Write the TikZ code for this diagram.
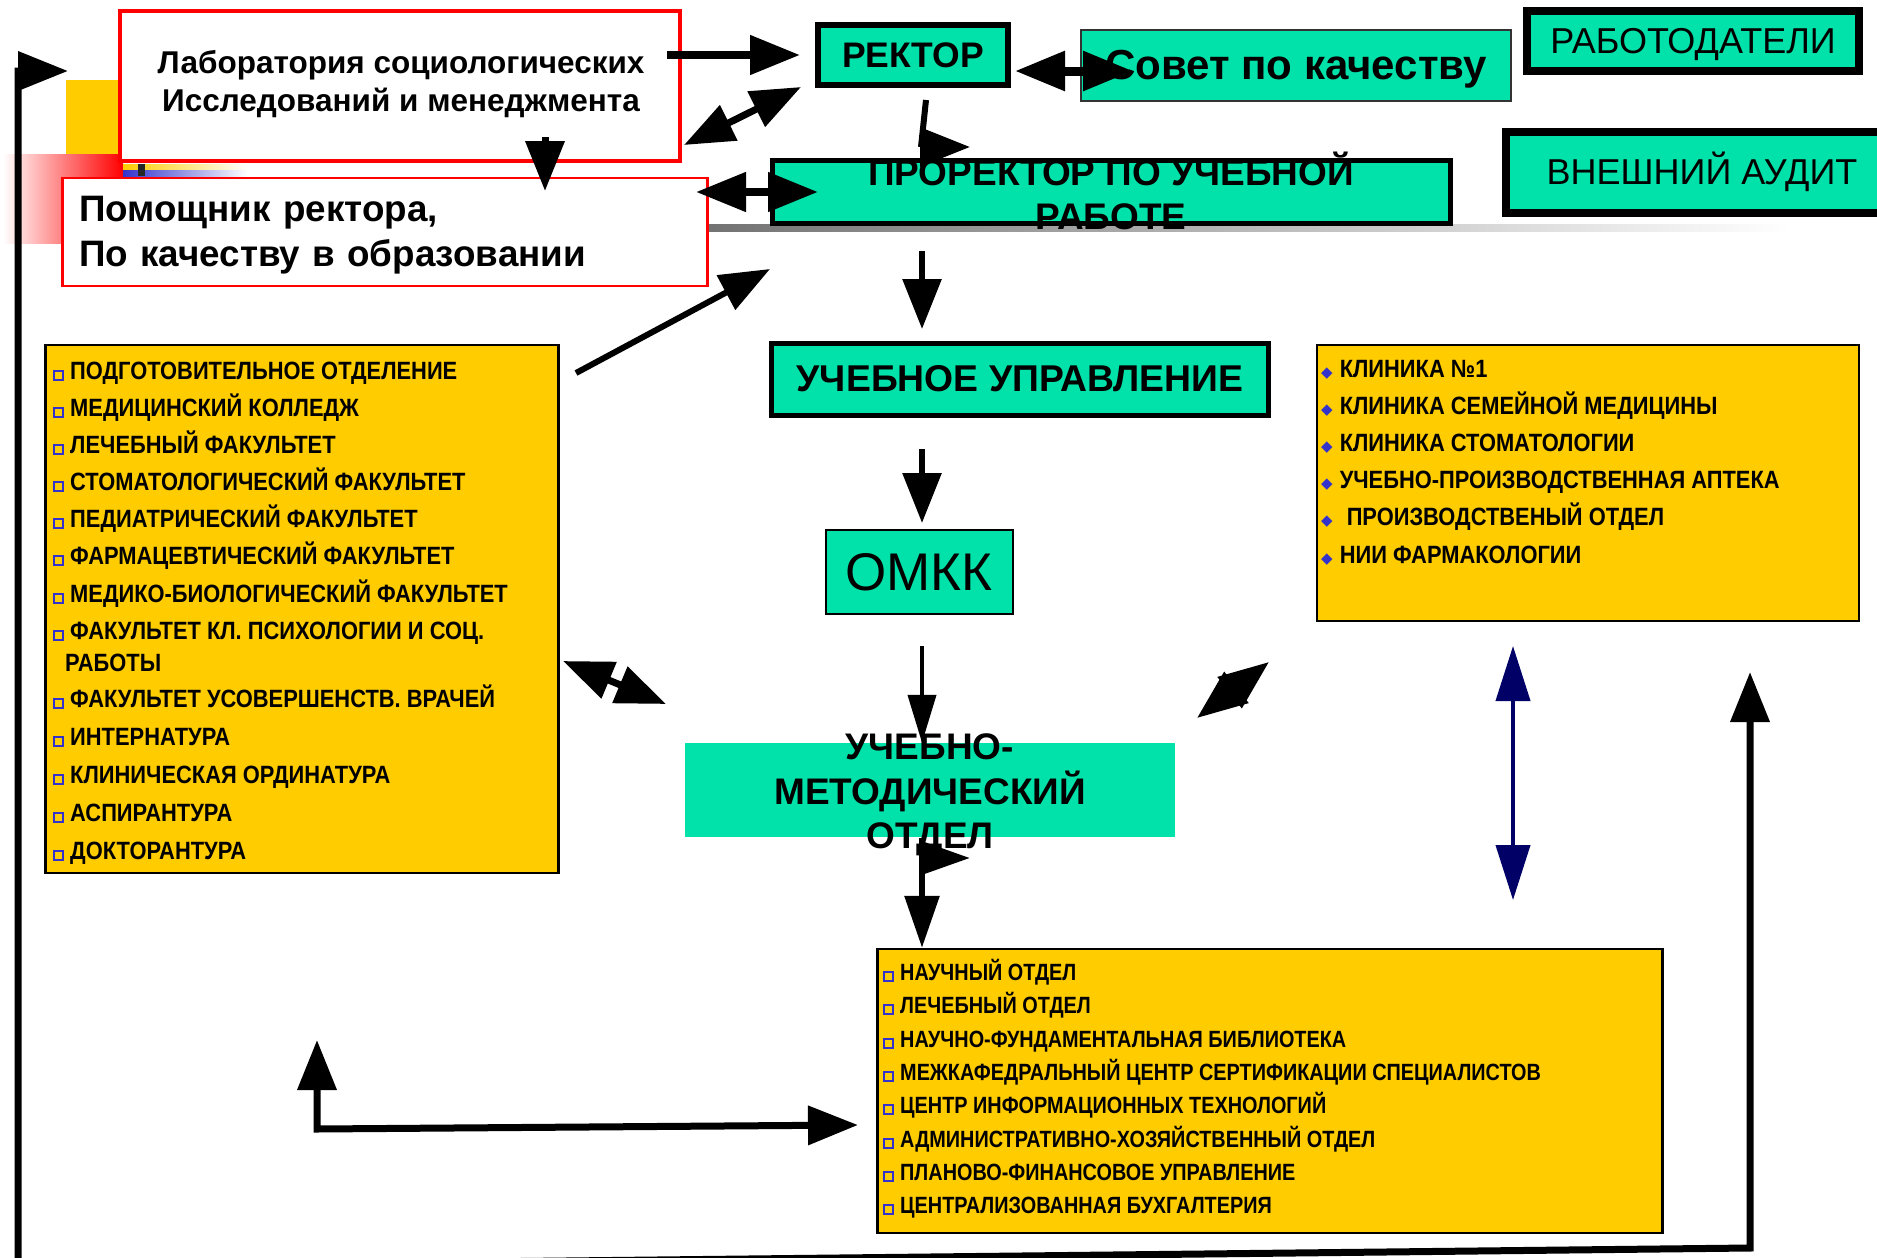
\documentclass[tikz,border=0pt]{standalone}
\usepackage{fontspec}
\setmainfont{Liberation Sans}
\newfontfamily\narrowfont[FakeStretch=0.875]{Liberation Sans}
\newfontfamily\narrowerfont[FakeStretch=0.845]{Liberation Sans}
\newfontfamily\symbolfont{DejaVu Sans}
\usetikzlibrary{arrows.meta}

\definecolor{boxgreen}{RGB}{0,226,170}
\definecolor{listyellow}{RGB}{255,204,0}
\definecolor{bulletblue}{RGB}{51,51,204}
\definecolor{arrownavy}{RGB}{0,0,102}

\newcommand{\sqbul}{{\color{bulletblue}\fboxsep=0pt\fboxrule=2pt\fbox{\rule{0pt}{7pt}\hspace{7pt}}}\hspace{6pt}}
\newcommand{\dmbul}{{\symbolfont\fontsize{15}{15}\selectfont\color{bulletblue}◆}\hspace{7pt}}

\begin{document}
\begin{tikzpicture}[x=1pt, y=-1pt]
\useasboundingbox (0,0) rectangle (1877,1258);

      % slide decorations
      \fill[listyellow] (66,80) rectangle (120,154);
      \shade[left color=white, right color=red] (3,154) rectangle (123,243);
      \shade[left color=listyellow, right color=white] (123,164) rectangle (247,170);
      \shade[left color=bulletblue, right color=white] (123,170) rectangle (247,176);
      \fill[black!85] (138,164) rectangle (145,176);
      \shade[left color=black!55, right color=white] (709,224) rectangle (1790,231);

      \begin{scope}[every node/.style={rectangle, inner sep=0pt, draw=black, fill=boxgreen, font=\bfseries}]
        \node[draw=red, line width=4.5pt, fill=white, minimum width=560pt, minimum height=150pt] (lab) at (400,86) {};
        \node[draw=red, line width=2.5pt, fill=white, minimum width=645pt, minimum height=108pt] (helper) at (385,232) {};
        \node[line width=6pt, minimum width=190pt, minimum height=60pt, font=\fontsize{35.5}{40}\selectfont\bfseries] (rector) at (913,55) {РЕКТОР};
        \node[draw=black!80, line width=2pt, minimum width=430pt, minimum height=71pt, text depth=0pt, font=\fontsize{42}{48}\selectfont\bfseries] (council) at (1296,65) {Совет по качеству};
        \node[line width=8pt, minimum width=332pt, minimum height=60pt, text depth=0pt, font=\fontsize{36}{40}\selectfont] (employers) at (1693,41) {РАБОТОДАТЕЛИ};
        \node[line width=8pt, minimum width=392pt, minimum height=81pt, font=\fontsize{36}{40}\selectfont] (audit) at (1702,172) {ВНЕШНИЙ АУДИТ};
        \node[line width=5pt, minimum width=678pt, minimum height=63pt] (pror) at (1111,192) {};
        \node[line width=5pt, minimum width=497pt, minimum height=72pt, font=\fontsize{37.3}{40}\selectfont\bfseries] (edu) at (1020,379) {УЧЕБНОЕ УПРАВЛЕНИЕ};
        \node[line width=2pt, minimum width=187pt, minimum height=84pt, font=\fontsize{53}{56}\selectfont] (omkk) at (919,572) {ОМКК};
        \node[draw=none, minimum width=490pt, minimum height=94pt] (umo) at (930,790) {};
        \node[fill=listyellow, line width=2.5pt, minimum width=513pt, minimum height=528pt] (faculties) at (302,609) {};
        \node[fill=listyellow, line width=2.5pt, minimum width=542pt, minimum height=276pt] (clinics) at (1588,483) {};
        \node[fill=listyellow, line width=2.5pt, minimum width=785pt, minimum height=284pt] (depts) at (1270,1091) {};
      \end{scope}

      \begin{scope}[every node/.style={inner sep=0pt, align=center, font=\fontsize{37}{44}\selectfont\bfseries}]
        \node[font=\fontsize{31.5}{38}\selectfont\bfseries] (labText) at (401,84) {Лаборатория социологических\\Исследований и менеджмента};
        \node[text width=612pt, align=left, font=\fontsize{36.8}{45}\selectfont\bfseries] (helperText) at (385,235) {Помощник ректора,\\По качеству в образовании};
        \node (prorText) at (1111,191) {ПРОРЕКТОР ПО УЧЕБНОЙ\\РАБОТЕ};
        \node[font=\fontsize{37}{44.5}\selectfont\bfseries] (umoText) at (930,795) {УЧЕБНО-\\МЕТОДИЧЕСКИЙ\\ОТДЕЛ};
      \end{scope}

      \begin{scope}[every node/.style={inner sep=0pt, anchor=base west, font=\narrowfont\bfseries\fontsize{25}{30}\selectfont}]
        \foreach \y/\entry [count=\i] in {379/ПОДГОТОВИТЕЛЬНОЕ ОТДЕЛЕНИЕ, 416/МЕДИЦИНСКИЙ КОЛЛЕДЖ, 453/ЛЕЧЕБНЫЙ ФАКУЛЬТЕТ, 490/СТОМАТОЛОГИЧЕСКИЙ ФАКУЛЬТЕТ, 527/ПЕДИАТРИЧЕСКИЙ ФАКУЛЬТЕТ, 564/ФАРМАЦЕВТИЧЕСКИЙ ФАКУЛЬТЕТ, 602/МЕДИКО-БИОЛОГИЧЕСКИЙ ФАКУЛЬТЕТ, 639/ФАКУЛЬТЕТ КЛ. ПСИХОЛОГИИ  И СОЦ., 707/ФАКУЛЬТЕТ УСОВЕРШЕНСТВ. ВРАЧЕЙ, 745/ИНТЕРНАТУРА, 783/КЛИНИЧЕСКАЯ ОРДИНАТУРА, 821/АСПИРАНТУРА, 859/ДОКТОРАНТУРА}
          \node (fac\i) at (53,\y) {\sqbul\entry};
        \node (fac8b) at (65,671) {РАБОТЫ};
        \foreach \y/\entry [count=\i] in {377/КЛИНИКА №1, 414/КЛИНИКА СЕМЕЙНОЙ МЕДИЦИНЫ, 451/КЛИНИКА СТОМАТОЛОГИИ, 488/УЧЕБНО-ПРОИЗВОДСТВЕННАЯ АПТЕКА, 525/\hspace{7pt}ПРОИЗВОДСТВЕНЫЙ ОТДЕЛ, 563/НИИ ФАРМАКОЛОГИИ}
          \node (clin\i) at (1321,\y) {\dmbul\entry};
        \foreach \y/\entry [count=\i] in {980/НАУЧНЫЙ ОТДЕЛ, 1013/ЛЕЧЕБНЫЙ ОТДЕЛ, 1047/НАУЧНО-ФУНДАМЕНТАЛЬНАЯ БИБЛИОТЕКА, 1080/МЕЖКАФЕДРАЛЬНЫЙ ЦЕНТР СЕРТИФИКАЦИИ СПЕЦИАЛИСТОВ, 1113/ЦЕНТР ИНФОРМАЦИОННЫХ ТЕХНОЛОГИЙ, 1147/АДМИНИСТРАТИВНО-ХОЗЯЙСТВЕННЫЙ ОТДЕЛ, 1180/ПЛАНОВО-ФИНАНСОВОЕ УПРАВЛЕНИЕ, 1213/ЦЕНТРАЛИЗОВАННАЯ БУХГАЛТЕРИЯ}
          \node[font=\narrowerfont\bfseries\fontsize{23.5}{28}\selectfont] (dept\i) at (883,\y) {\sqbul\entry};
      \end{scope}

      \coordinate (labOut) at (667,55);
      \coordinate (rectorIn) at (800,55);
      \coordinate (labDiag) at (684,145);
      \coordinate (rectorDiag) at (801,87);
      \coordinate (rectorR) at (1015,71);
      \coordinate (councilL) at (1133,71);
      \coordinate (rectorDown) at (926,100);
      \coordinate (prorStub) at (921,147);
      \coordinate (prorTip) at (970,147);
      \coordinate (labDown) at (545,137);
      \coordinate (helperTip) at (545,191);
      \coordinate (helperR) at (696,192);
      \coordinate (prorL) at (818,192);
      \coordinate (facOut) at (576,373);
      \coordinate (prorSW) at (770,269);
      \coordinate (prorOut) at (922,251);
      \coordinate (eduIn) at (922,329);
      \coordinate (eduOut) at (922,449);
      \coordinate (omkkIn) at (922,523);
      \coordinate (omkkOut) at (922,646);
      \coordinate (umoOut) at (922,838);
      \coordinate (umoStub) at (922,858);
      \coordinate (umoTip) at (970,858);
      \coordinate (facR) at (563,661);
      \coordinate (umoL) at (666,704);
      \coordinate (umoR) at (1197,718);
      \coordinate (clinicsL) at (1269,662);
      \coordinate (clinicsDown) at (1513,646);
      \coordinate (deptsUp) at (1513,900);
      \coordinate (loopTop) at (317,1040);
      \coordinate (loopCorner) at (317,1129);
      \coordinate (deptsL) at (858,1125);
      \coordinate (frameTip) at (1750,672);
      \coordinate (frameBR) at (1750,1248);
      \coordinate (frameBL) at (18,1267);
      \coordinate (frameTL) at (18,71);
      \coordinate (frameEnd) at (68,71);

      \begin{scope}[>={Triangle[length=50pt,width=38pt]},
          every edge/.style={draw=black, line width=7pt}]
        \path [->] (labOut) edge[line width=8pt] (rectorIn);
        \path [<->] (labDiag) edge (rectorDiag);
        \path [<->] (rectorR) edge[line width=9pt] (councilL);
        \path (rectorDown) edge[line width=6pt] (prorStub);
        \path [->] (prorStub) edge[line width=6pt] (prorTip);
        \path [->] (labDown) edge (helperTip);
        \path [<->] (helperR) edge[line width=8pt] (prorL);
        \path [->] (facOut) edge[line width=6pt] (prorSW);
        \path [->] (prorOut) edge[line width=6pt] (eduIn);
        \path [->] (eduOut) edge[line width=6pt] (omkkIn);
        \path [->, >={Triangle[length=48pt,width=28pt]}] (omkkOut) edge[line width=4pt] (omkkOut |- umo.north);
        \path [->, >={Triangle[length=52pt,width=34pt]}] (umoOut) edge[line width=6pt] (umoOut |- depts.north);
        \path [->, >={Triangle[length=48pt,width=32pt]}] (umoStub) edge[line width=6pt] (umoTip);
        \path [<->] (facR) edge (umoL);
        \path [<->] (umoR) edge (clinicsL);
        \path [<->, >={Triangle[length=55pt,width=34pt]}] (clinicsDown) edge[draw=arrownavy, line width=4pt] (deptsUp);
        \draw [<->, line width=7pt] (loopTop) -- (loopCorner) -- (deptsL);
        \draw [<->, line width=7pt] (frameTip) -- (frameBR) -- (frameBL) -- (frameTL) -- (frameEnd);
      \end{scope}
\end{tikzpicture}
\end{document}
